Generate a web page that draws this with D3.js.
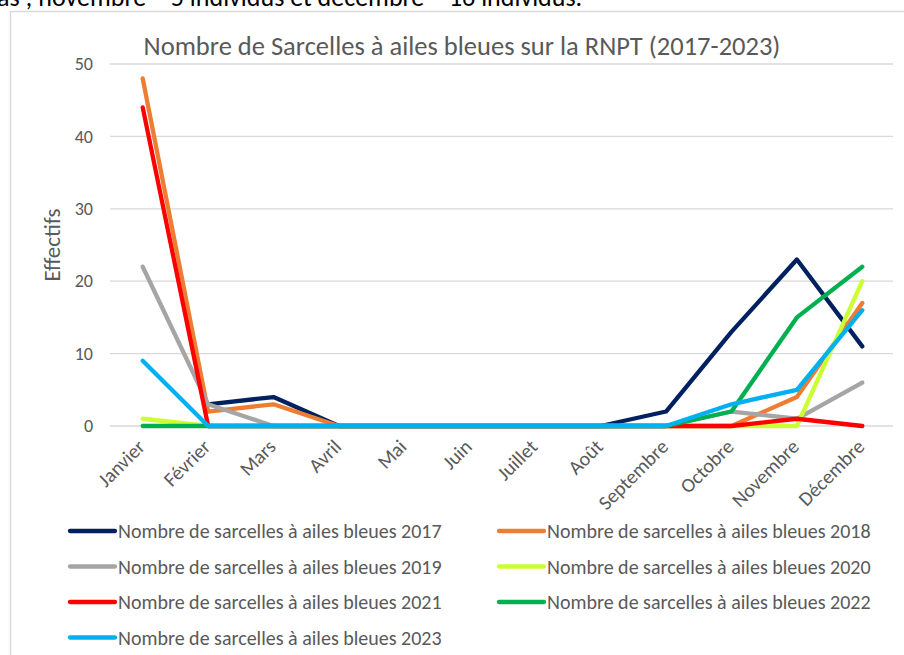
<!DOCTYPE html>
<html>
<head>
<meta charset="utf-8">
<script src="https://cdn.jsdelivr.net/npm/d3@7"></script>
<style>
  html, body { margin: 0; padding: 0; background: #fff; }
  svg { display: block; font-family: Carlito, Calibri, Lato, sans-serif; }
</style>
</head>
<body>
<svg id="chart" width="904" height="655"></svg>
<script>
// ---- data ----
const months = ['Janvier', 'Février', 'Mars', 'Avril', 'Mai', 'Juin', 'Juillet',
                'Août', 'Septembre', 'Octobre', 'Novembre', 'Décembre'];
const years = ['2017', '2018', '2019', '2020', '2021', '2022', '2023'];

const v2017 = [null, 3, 4, 0, 0, 0, 0, 0, 2, 13, 23, 11];
const v2018 = [48, 2, 3, 0, 0, 0, 0, 0, 0, 0, 4, 17];
const v2019 = [22, 3, 0, 0, 0, 0, 0, 0, 0, 2, 1, 6];
const v2020 = [1, 0, 0, 0, 0, 0, 0, 0, 0, 0, 0, 20];
const v2021 = [44, 0, 0, 0, 0, 0, 0, 0, 0, 0, 1, 0];
const v2022 = [0, 0, 0, 0, 0, 0, 0, 0, 0, 2, 15, 22];
const v2023 = [9, 0, 0, 0, 0, 0, 0, 0, 0, 3, 5, 16];

const yTicks = [0, 10, 20, 30, 40, 50];
const colors = ['#002060', '#ED7D31', '#A5A5A5', '#CCFF33', '#FF0000', '#00B050', '#00B0F0'];

const series = [v2017, v2018, v2019, v2020, v2021, v2022, v2023].map((vals, i) => ({
  name: 'Nombre de sarcelles à ailes bleues ' + years[i],
  color: colors[i],
  values: vals
}));

const svg = d3.select('#chart');
const txt = '#595959';
const font = 'Carlito, Calibri, Lato, sans-serif';

// text above the chart (cut by the screenshot)
svg.append('text')
  .attr('x', -3).attr('y', 6)
  .attr('font-size', 26).attr('fill', '#000')
  .text('as ; novembre = 5 individus et décembre = 16 individus.');

// chart frame
svg.append('rect')
  .attr('x', 10.5).attr('y', 11.5)
  .attr('width', 1000).attr('height', 1000)
  .attr('fill', 'none').attr('stroke', '#d9d9d9').attr('stroke-width', 1.5);

// ---- scales ----
const x = d3.scalePoint().domain(months).range([110, 895]).padding(0.5);
const y = d3.scaleLinear().domain([0, 50]).range([426, 64]);

// gridlines
svg.append('g')
  .selectAll('line')
  .data(yTicks)
  .join('line')
  .attr('x1', 110).attr('x2', 893)
  .attr('y1', d => y(d)).attr('y2', d => y(d))
  .attr('stroke', '#d9d9d9').attr('stroke-width', 1.3);

// y axis labels
const yAxis = svg.append('g')
  .attr('transform', 'translate(93,0)')
  .call(d3.axisLeft(y).tickValues(yTicks).tickSize(0).tickPadding(0));
yAxis.select('.domain').remove();
yAxis.selectAll('text')
  .attr('fill', txt).attr('font-size', 18)
  .attr('font-family', font);

svg.append('text')
  .attr('transform', `translate(60,245) rotate(-90)`)
  .attr('text-anchor', 'middle')
  .attr('fill', txt).attr('font-size', 23)
  .text('Effectifs');

// x axis labels
const xAxis = svg.append('g')
  .attr('transform', 'translate(0,426)')
  .call(d3.axisBottom(x).tickSize(0).tickPadding(0));
xAxis.select('.domain').remove();
xAxis.selectAll('text')
  .attr('fill', txt).attr('font-size', 20)
  .attr('font-family', font)
  .attr('text-anchor', 'end')
  .attr('dy', null)
  .attr('transform', 'translate(3,22) rotate(-45)');

// title
svg.append('text')
  .attr('x', 462).attr('y', 55)
  .attr('text-anchor', 'middle')
  .attr('fill', txt).attr('font-size', 26.5)
  .text('Nombre de Sarcelles à ailes bleues sur la RNPT (2017-2023)');

// ---- lines ----
const line = d3.line()
  .defined(d => d != null)
  .x((d, i) => x(months[i]))
  .y(d => y(d));

svg.append('g')
  .selectAll('path')
  .data(series)
  .join('path')
  .attr('d', d => line(d.values))
  .attr('fill', 'none')
  .attr('stroke', d => d.color)
  .attr('stroke-width', 4.3)
  .attr('stroke-linejoin', 'round')
  .attr('stroke-linecap', 'round');

// ---- legend ----
const leg = svg.append('g')
  .selectAll('g')
  .data(series)
  .join('g')
  .attr('transform', (d, i) => `translate(${i % 2 ? 499 : 70},${531 + Math.floor(i / 2) * 35.5})`);

leg.append('line')
  .attr('x1', 0).attr('x2', 45)
  .attr('stroke', d => d.color)
  .attr('stroke-width', 4.3)
  .attr('stroke-linecap', 'round');

leg.append('text')
  .attr('x', 48).attr('dy', '0.35em')
  .attr('fill', txt).attr('font-size', 20)
  .text(d => d.name);
</script>
</body>
</html>
